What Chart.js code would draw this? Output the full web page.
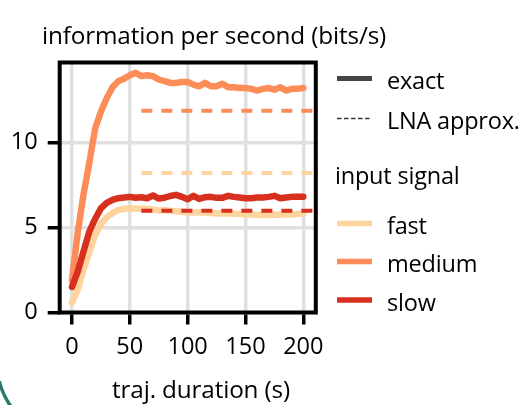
<!DOCTYPE html>
<html>
<head>
<meta charset="utf-8">
<script src="https://cdn.jsdelivr.net/npm/chart.js@4.4.0/dist/chart.umd.min.js"></script>
<style>
  html, body { margin: 0; padding: 0; background: #fff; }
</style>
</head>
<body>
<canvas id="infoChart" width="521" height="405"></canvas>
<script>
// =========================
// DATA
// =========================

const durations = [0, 5, 10, 15, 20, 25, 30, 35, 40, 45, 50, 55, 60, 65, 70, 75, 80, 85, 90, 95, 100,
  105, 110, 115, 120, 125, 130, 135, 140, 145, 150, 155, 160, 165, 170, 175, 180, 185, 190, 195, 200];

const fastExact = [0.6, 1.35, 2.5, 3.55, 4.55, 5.2, 5.6, 5.85, 6.02, 6.1, 6.12, 6.12, 6.1, 6.08, 6.05, 6.0, 6.02,
  5.98, 5.95, 5.92, 5.9, 5.88, 5.9, 5.88, 5.85, 5.82, 5.84, 5.82, 5.8, 5.8, 5.78, 5.76, 5.74, 5.76, 5.74,
  5.76, 5.75, 5.78, 5.76, 5.8, 5.8];

const mediumExact = [1.9, 4.7, 6.95, 8.8, 10.8, 11.8, 12.6, 13.25, 13.6, 13.75, 13.95, 14.1, 13.9, 13.95, 13.9,
  13.7, 13.6, 13.5, 13.5, 13.55, 13.55, 13.4, 13.3, 13.5, 13.3, 13.3, 13.45, 13.25, 13.25, 13.2, 13.2,
  13.15, 13.05, 13.15, 13.2, 13.1, 13.25, 13.05, 13.15, 13.15, 13.2];

const slowExact = [1.5, 2.4, 3.6, 4.75, 5.5, 6.12, 6.45, 6.62, 6.72, 6.76, 6.8, 6.75, 6.78, 6.72, 6.88, 6.7,
  6.75, 6.85, 6.92, 6.8, 6.66, 6.86, 6.68, 6.78, 6.8, 6.74, 6.74, 6.86, 6.8, 6.76, 6.72, 6.72, 6.76, 6.76,
  6.8, 6.86, 6.72, 6.76, 6.8, 6.8, 6.8];

// LNA approximation: flat levels from 60 s onward
const lnaDurations = [60, 215];
const fastLna = [8.2, 8.2];
const mediumLna = [11.86, 11.86];
const slowLna = [5.98, 5.98];

const xTickValues = [0, 50, 100, 150, 200];
const xTickLabels = ['0', '50', '100', '150', '200'];
const yTickValues = [0, 5, 10];
const yTickLabels = ['0', '5', '10'];

const signalNames = ['fast', 'medium', 'slow'];
const signalColors = ['#fdd49e', '#fc8d59', '#d7301f'];

const titleText = 'information per second (bits/s)';
const xAxisLabel = 'traj. duration (s)';

// =========================
// HELPERS
// =========================

const FONT = "'Open Sans', 'Noto Sans', sans-serif";
const FONT_SIZE = 23.5;
const LABEL_SIZE = 24.3;
const TEXT_COLOR = '#000';

function toPoints(xs, ys) {
  return xs.map((x, i) => ({ x: x, y: ys[i] }));
}

function exactSet(name, ys, color, order) {
  return {
    label: name + ' exact',
    data: toPoints(durations, ys),
    borderColor: color,
    borderWidth: 6.5,
    borderJoinStyle: 'round',
    borderCapStyle: 'round',
    pointRadius: 0,
    tension: 0,
    order: order
  };
}

function lnaSet(name, ys, color, order) {
  return {
    label: name + ' LNA',
    data: toPoints(lnaDurations, ys),
    borderColor: color,
    borderWidth: 4,
    borderDash: [11, 9],
    borderCapStyle: 'butt',
    pointRadius: 0,
    tension: 0,
    order: order
  };
}

// Frame, title, axis label and legend drawn on top of the chart
const decorPlugin = {
  id: 'decor',
  afterDraw(chart) {
    const ctx = chart.ctx;
    const a = chart.chartArea;
    ctx.save();

    // axes frame
    ctx.strokeStyle = '#000';
    ctx.lineWidth = 4;
    ctx.strokeRect(a.left, a.top, a.right - a.left, a.bottom - a.top);

    // title and x label
    ctx.fillStyle = TEXT_COLOR;
    ctx.font = LABEL_SIZE + 'px ' + FONT;
    ctx.letterSpacing = '-0.15px';
    ctx.textBaseline = 'alphabetic';
    ctx.textAlign = 'left';
    ctx.fillText(titleText, 42, 44);

    ctx.textAlign = 'center';
    ctx.fillText(xAxisLabel, 201, 398);

    // legend: line styles
    ctx.font = FONT_SIZE + 'px ' + FONT;
    ctx.letterSpacing = '-0.2px';
    ctx.textAlign = 'left';
    const swX0 = 337, swX1 = 372, textX = 387;
    ctx.lineCap = 'butt';

    ctx.strokeStyle = '#444';
    ctx.lineWidth = 5;
    ctx.setLineDash([]);
    ctx.beginPath(); ctx.moveTo(swX0, 78.5); ctx.lineTo(swX1, 78.5); ctx.stroke();
    ctx.fillText('exact', textX, 89);

    ctx.strokeStyle = '#333';
    ctx.lineWidth = 1.5;
    ctx.setLineDash([4.5, 2.5]);
    ctx.beginPath(); ctx.moveTo(swX0, 118.5); ctx.lineTo(swX1, 118.5); ctx.stroke();
    ctx.fillText('LNA approx.', textX, 128.5);

    // legend: input signal
    ctx.setLineDash([]);
    ctx.fillText('input signal', 335, 184);
    const rowY = [223.5, 261.5, 300];
    signalNames.forEach((name, i) => {
      ctx.strokeStyle = signalColors[i];
      ctx.lineWidth = 5.5;
      ctx.beginPath(); ctx.moveTo(swX0, rowY[i]); ctx.lineTo(swX1, rowY[i]); ctx.stroke();
      ctx.fillText(name, textX, rowY[i] + 10.5);
    });

    // teal arc peeking in at the bottom-left corner
    ctx.strokeStyle = '#2a7a6e';
    ctx.lineWidth = 3.5;
    ctx.beginPath();
    ctx.arc(72, 363, 75, 140 * Math.PI / 180, 166 * Math.PI / 180);
    ctx.stroke();

    ctx.restore();
  }
};

// =========================
// CHART
// =========================

const tickFont = { family: FONT, size: FONT_SIZE, lineHeight: 1.2 };
const gridStyle = { color: '#e0e0e0', lineWidth: 3.5, tickColor: '#000', tickWidth: 3.5, tickLength: 12 };

new Chart(document.getElementById('infoChart'), {
  type: 'line',
  data: {
    datasets: [
      exactSet('fast', fastExact, signalColors[0], 6),
      exactSet('medium', mediumExact, signalColors[1], 5),
      exactSet('slow', slowExact, signalColors[2], 4),
      lnaSet('fast', fastLna, signalColors[0], 3),
      lnaSet('medium', mediumLna, signalColors[1], 2),
      lnaSet('slow', slowLna, signalColors[2], 1)
    ]
  },
  options: {
    responsive: false,
    animation: false,
    devicePixelRatio: 1,
    layout: { padding: { left: 0, top: 62.5, right: 205.2, bottom: 0 } },
    plugins: {
      legend: { display: false },
      tooltip: { enabled: false },
      title: { display: false }
    },
    scales: {
      x: {
        type: 'linear',
        min: -10.6,
        max: 210.8,
        afterBuildTicks: (s) => { s.ticks = xTickValues.map(v => ({ value: v })); },
        afterFit: (s) => { s.height = 92.5; },
        border: { display: false },
        grid: gridStyle,
        ticks: {
          callback: (v, i) => xTickLabels[i],
          color: TEXT_COLOR,
          font: tickFont,
          padding: 9,
          maxRotation: 0,
          autoSkip: false
        }
      },
      y: {
        type: 'linear',
        min: 0,
        max: 14.7,
        afterBuildTicks: (s) => { s.ticks = yTickValues.map(v => ({ value: v })); },
        afterFit: (s) => { s.width = 59.7; },
        border: { display: false },
        grid: gridStyle,
        ticks: {
          callback: (v, i) => yTickLabels[i],
          color: TEXT_COLOR,
          font: tickFont,
          padding: 10,
          autoSkip: false
        }
      }
    }
  },
  plugins: [decorPlugin]
});
</script>
</body>
</html>
